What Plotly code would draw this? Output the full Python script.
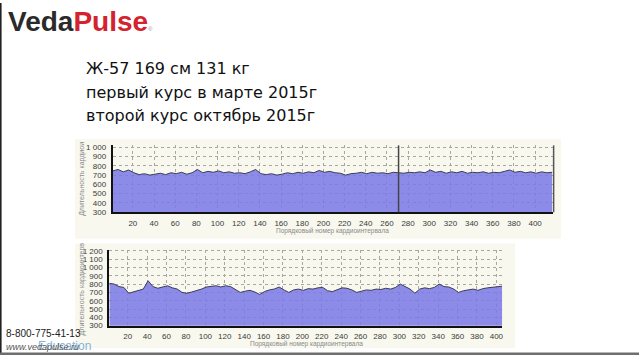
import plotly.graph_objects as go

# ---------------- data ----------------
title_lines = ["Ж-57 169 см 131 кг", "первый курс в марте 2015г", "второй курс октябрь 2015г"]
x_axis_title = "Порядковый номер кардиоинтервала"
y_axis_title_1 = "Длительность кардиои"
y_axis_title_2 = "Длительность кардиоинтерв"

step = 5
# first course (March 2015), RR-interval durations, ms (every 5th interval)
course1_rr = [745, 760, 735, 755, 725, 705, 715, 700, 710, 720, 705, 725, 715, 730, 710, 725,
              760, 725, 740, 730, 745, 725, 735, 720, 725, 715, 735, 760, 715, 705, 715, 700,
              710, 725, 715, 730, 720, 735, 725, 750, 730, 740, 725, 720, 700, 715, 720, 730,
              715, 730, 720, 725, 715, 730, 725, 720, 730, 725, 735, 725, 755, 730, 740, 720,
              735, 725, 740, 720, 730, 725, 735, 720, 730, 725, 740, 755, 730, 740, 725, 735,
              720, 735, 725, 730]
course1_marker_interval = 271

# second course (October 2015)
course2_rr = [810, 800, 770, 760, 690, 705, 720, 740, 840, 770, 750, 765, 780, 755, 740, 700,
              690, 705, 720, 740, 765, 770, 780, 765, 780, 770, 740, 700, 715, 725, 705, 675,
              710, 730, 740, 765, 730, 700, 730, 740, 725, 745, 740, 755, 760, 720, 710, 735,
              755, 750, 730, 700, 715, 730, 725, 740, 735, 750, 740, 760, 800, 765, 740, 690,
              740, 755, 745, 760, 800, 770, 765, 740, 700, 720, 730, 740, 725, 745, 755, 760,
              770, 775]

x1 = list(range(1, 1 + step * len(course1_rr), step))
x2 = list(range(1, 1 + step * len(course2_rr), step))

x_ticks = list(range(20, 401, 20))
y_ticks_1 = list(range(300, 1001, 100))
y_ticks_2 = list(range(300, 1201, 100))


def fmt(v):
    return f"{v:,}".replace(",", " ")


W, H = 640, 360


def px(x):
    return x / W


def py(y):
    return 1 - y / H


fill_col = "rgba(122,122,230,0.86)"
line_col = "#3c3c58"
bg_col = "#f8f8ee"

fig = go.Figure()
fig.add_trace(go.Scatter(x=x1, y=course1_rr, mode="lines", fill="tozeroy",
                         fillcolor=fill_col, line=dict(color=line_col, width=1),
                         xaxis="x", yaxis="y", hoverinfo="skip"))
fig.add_trace(go.Scatter(x=x2, y=course2_rr, mode="lines", fill="tozeroy",
                         fillcolor=fill_col, line=dict(color=line_col, width=1),
                         xaxis="x2", yaxis="y2", hoverinfo="skip"))

tickfont = dict(family="Liberation Sans", size=8, color="#3a3a3a")
xa = dict(tickvals=x_ticks, ticktext=[str(t) for t in x_ticks], tickfont=tickfont,
          showgrid=True, gridcolor="#a8a8a0", griddash="dot", gridwidth=1,
          showline=True, linecolor="#111", linewidth=2, zeroline=False, ticks="",
          ticklabelstandoff=2)
ya = dict(tickfont=tickfont, showgrid=True, gridcolor="#a8a8a0", griddash="dot",
          gridwidth=1, showline=True, linecolor="#111", linewidth=2, zeroline=False,
          ticks="", ticklabelstandoff=3)

fig.update_layout(
    width=W, height=H, margin=dict(l=0, r=0, t=0, b=0),
    paper_bgcolor="#ffffff", plot_bgcolor=bg_col, showlegend=False,
    xaxis=dict(xa, domain=[px(112.9), px(554)], range=[1, 417], anchor="y"),
    yaxis=dict(ya, domain=[py(214), py(145.6)], range=[300, 1020], anchor="x",
               tickvals=y_ticks_1, ticktext=[fmt(v) for v in y_ticks_1]),
    xaxis2=dict(xa, domain=[px(109.5), px(503)], range=[1, 406], anchor="y2"),
    yaxis2=dict(ya, domain=[py(330), py(252.2)], range=[300, 1215], anchor="x2",
                tickvals=y_ticks_2, ticktext=[fmt(v) for v in y_ticks_2]),
)

shapes = [
    # chart image backgrounds
    dict(type="rect", xref="paper", yref="paper", x0=px(75), x1=px(562), y0=py(241), y1=py(139),
         fillcolor=bg_col, line=dict(width=0), layer="below"),
    dict(type="rect", xref="paper", yref="paper", x0=px(75), x1=px(516), y0=py(353), y1=py(246),
         fillcolor=bg_col, line=dict(width=0), layer="below"),
    # right border of first chart
    dict(type="line", xref="paper", yref="paper", x0=px(554.5), x1=px(554.5), y0=py(214), y1=py(145.6),
         line=dict(color="#555", width=1.5)),
    # marker line in first chart
    dict(type="line", xref="x", yref="y domain", x0=course1_marker_interval, x1=course1_marker_interval,
         y0=0, y1=1, line=dict(color="#444", width=1.5)),
    # slide edges
    dict(type="line", xref="paper", yref="paper", x0=px(0.8), x1=px(0.8), y0=0, y1=1,
         line=dict(color="#222", width=1.6)),
    dict(type="rect", xref="paper", yref="paper", x0=0, x1=1, y0=0, y1=py(357.5),
         fillcolor="#6e6e6e", line=dict(width=0)),
]
fig.update_layout(shapes=shapes)

ann = []
# logo
ann.append(dict(xref="paper", yref="paper", x=px(6), y=py(19), xanchor="left", yanchor="middle",
                showarrow=False,
                text="<b><span style='color:#2a2a2a'>Veda</span><span style='color:#d3232e'>Pulse</span></b>"
                     "<span style='color:#999;font-size:6px'>®</span>",
                font=dict(family="Liberation Sans", size=28)))
# title lines
for t, yy in zip(title_lines, [67, 92, 115]):
    ann.append(dict(xref="paper", yref="paper", x=px(84), y=py(yy), xanchor="left", yanchor="middle",
                    showarrow=False, text=t,
                    font=dict(family="DejaVu Sans", size=16, color="#111")))
# axis titles
ann.append(dict(xref="paper", yref="paper", x=px(333), y=py(233), xanchor="center", yanchor="middle",
                showarrow=False, text=x_axis_title,
                font=dict(family="Liberation Sans", size=6.5, color="#8a8a8a")))
ann.append(dict(xref="paper", yref="paper", x=px(307), y=py(349), xanchor="center", yanchor="middle",
                showarrow=False, text=x_axis_title,
                font=dict(family="Liberation Sans", size=6.5, color="#8a8a8a")))
ann.append(dict(xref="paper", yref="paper", x=px(82), y=py(180), xanchor="center", yanchor="middle",
                showarrow=False, text=y_axis_title_1, textangle=-90,
                font=dict(family="Liberation Sans", size=7, color="#8a8a8a")))
ann.append(dict(xref="paper", yref="paper", x=px(82), y=py(292), xanchor="center", yanchor="middle",
                showarrow=False, text=y_axis_title_2, textangle=-90,
                font=dict(family="Liberation Sans", size=7, color="#8a8a8a")))
# footer
ann.append(dict(xref="paper", yref="paper", x=px(4), y=py(338.5), xanchor="left", yanchor="middle",
                showarrow=False, text="8-800-775-41-13",
                font=dict(family="Liberation Sans", size=10, color="#222")))
ann.append(dict(xref="paper", yref="paper", x=px(36), y=py(350.5), xanchor="left", yanchor="middle",
                showarrow=False, text="Education",
                font=dict(family="Liberation Sans", size=12, color="#86b3dc")))
ann.append(dict(xref="paper", yref="paper", x=px(4), y=py(351.5), xanchor="left", yanchor="middle",
                showarrow=False, text="<i>www.vedapulse.ru</i>",
                font=dict(family="Liberation Sans", size=9, color="#555")))
fig.update_layout(annotations=ann)

fig.write_html("out.html")
